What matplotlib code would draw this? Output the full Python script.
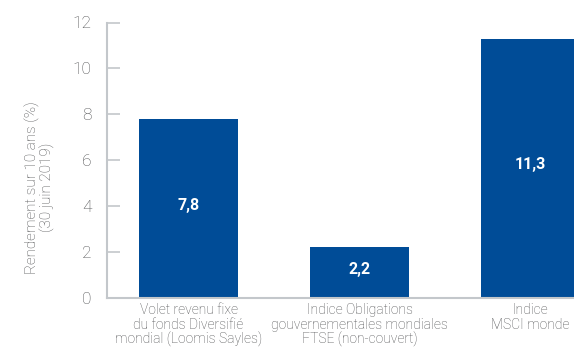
import matplotlib.pyplot as plt

# data
categories = ["Volet revenu fixe\ndu fonds Diversifié\nmondial (Loomis Sayles)",
              "Indice Obligations\ngouvernementales mondiales\nFTSE (non-couvert)",
              "Indice\nMSCI monde"]
values = [7.8, 2.2, 11.3]
value_labels = ["7,8", "2,2", "11,3"]
yticks = [0, 2, 4, 6, 8, 10, 12]

blue = "#004c97"
grey_txt = "#4f5052"
grey_line = "#c3c7cb"

plt.rcParams['font.family'] = ['Roboto', 'DejaVu Sans']

fig = plt.figure(figsize=(5.74, 3.49), dpi=100)
ax = fig.add_axes([107 / 574, 51 / 349, 467 / 574, 275.5 / 349])

x = range(len(values))
ax.bar(x, values, width=0.58, color=blue, zorder=2)

for i, v in enumerate(values):
    ax.text(i, v / 2 + 0.15, value_labels[i], ha="center", va="center",
            color="white", fontsize=11.5, fontweight="bold", zorder=3)

ax.set_xlim(-0.4766, 2.254)
ax.set_ylim(0, 12)
ax.set_yticks(yticks)
ax.set_yticklabels([str(t) for t in yticks], fontsize=12.5, color=grey_txt, fontweight="light")
ax.set_xticks(list(x))
ax.set_xticklabels(categories, fontsize=10, color=grey_txt, fontweight="light", linespacing=1.06)

ax.tick_params(axis="y", direction="in", length=9.5, width=1.2, color=grey_line, pad=11)
ax.tick_params(axis="x", length=0, pad=3.5)

for s in ["top", "right"]:
    ax.spines[s].set_visible(False)
for s in ["left", "bottom"]:
    ax.spines[s].set_color(grey_line)
    ax.spines[s].set_linewidth(1.5)

ax.set_ylabel("Rendement sur 10 ans (%)\n(30 juin 2019)", fontsize=11,
              color=grey_txt, fontweight="light", linespacing=1.0)
ax.yaxis.set_label_coords(-0.111, 0.40)

fig.savefig("out.png", dpi=100)
